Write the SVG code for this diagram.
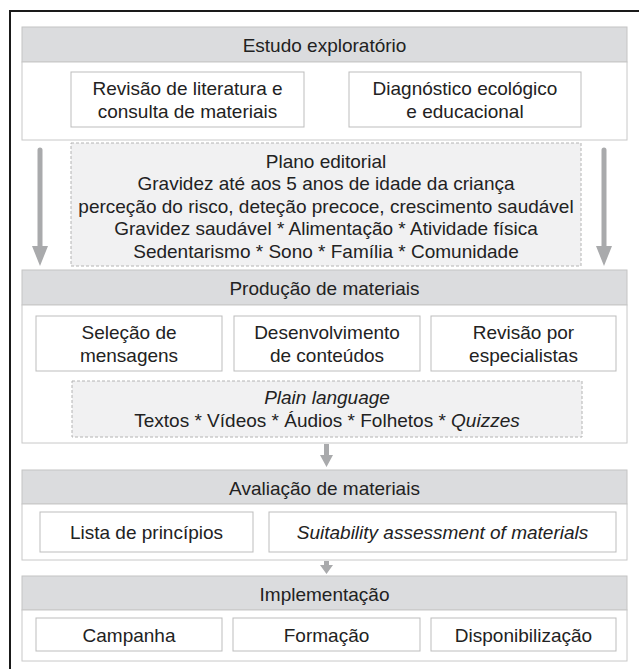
<svg xmlns="http://www.w3.org/2000/svg" width="639" height="669" viewBox="0 0 639 669">
<style>
.frame{fill:#fff;stroke:#1a1a1a;stroke-width:2}
.hdr{fill:#dbdcde;stroke:#c4c4c4;stroke-width:1}
.cont{fill:#fff;stroke:#c8c8c8;stroke-width:1}
.box{fill:#fff;stroke:#bdbdbd;stroke-width:1}
.dash{fill:#f1f1f2;stroke:#b4b4b4;stroke-width:1;stroke-dasharray:3 2}
text{font-family:"Liberation Sans",Arial,sans-serif;font-size:19px;fill:#222;text-anchor:middle}
.it{font-style:italic}
.arr{fill:#a9aaac}
</style>
<rect class="frame" x="10" y="11" width="640" height="670"/>

<g id="estudo">
<rect class="hdr" x="22" y="27" width="605" height="35"/>
<text x="324.5" y="51.5">Estudo exploratório</text>
<rect class="cont" x="22" y="62" width="605" height="78"/>
</g>
<g id="revisao-literatura">
<rect class="box" x="71" y="72" width="233" height="55"/>
<text x="187.5" y="94.5">Revisão de literatura e</text>
<text x="187.5" y="117.5">consulta de materiais</text>
</g>
<g id="diagnostico">
<rect class="box" x="349" y="72" width="232" height="55"/>
<text x="465" y="94.5">Diagnóstico ecológico</text>
<text x="465" y="117.5">e educacional</text>
</g>
<g id="plano">
<rect class="dash" x="71" y="143" width="510" height="123"/>
<text x="326" y="167.5">Plano editorial</text>
<text x="326" y="190">Gravidez até aos 5 anos de idade da criança</text>
<text x="326" y="212.5">perceção do risco, deteção precoce, crescimento saudável</text>
<text x="326" y="235">Gravidez saudável * Alimentação * Atividade física</text>
<text x="326" y="257.5">Sedentarismo * Sono * Família * Comunidade</text>
</g>

<g id="producao">
<rect class="hdr" x="22" y="270" width="605" height="35"/>
<text x="324.5" y="294.5">Produção de materiais</text>
<rect class="cont" x="22" y="305" width="605" height="138"/>
</g>
<g id="selecao">
<rect class="box" x="36" y="316" width="186" height="55"/>
<text x="129" y="338.5">Seleção de</text>
<text x="129" y="361.5">mensagens</text>
</g>
<g id="desenvolvimento">
<rect class="box" x="234" y="316" width="186" height="55"/>
<text x="327" y="338.5">Desenvolvimento</text>
<text x="327" y="361.5">de conteúdos</text>
</g>
<g id="revisao-especialistas">
<rect class="box" x="431" y="316" width="185" height="55"/>
<text x="523.5" y="338.5">Revisão por</text>
<text x="523.5" y="361.5">especialistas</text>
</g>
<g id="plain">
<rect class="dash" x="72" y="381" width="510" height="56"/>
<text x="327" y="403.5" class="it">Plain language</text>
<text x="327" y="426.5">Textos * Vídeos * Áudios * Folhetos * <tspan class="it">Quizzes</tspan></text>
</g>

<g id="avaliacao">
<rect class="hdr" x="22" y="470" width="605" height="34"/>
<text x="324.5" y="494.5">Avaliação de materiais</text>
<rect class="cont" x="22" y="504" width="605" height="56"/>
</g>
<g id="lista">
<rect class="box" x="40" y="512" width="213" height="40"/>
<text x="146.5" y="538.5">Lista de princípios</text>
</g>
<g id="suitability">
<rect class="box" x="269" y="512" width="347" height="40"/>
<text x="442.5" y="538.5" class="it">Suitability assessment of materials</text>
</g>

<g id="implementacao">
<rect class="hdr" x="22" y="576" width="605" height="34"/>
<text x="324.5" y="600.5">Implementação</text>
<rect class="cont" x="22" y="610" width="605" height="51"/>
</g>
<g id="campanha">
<rect class="box" x="36" y="618" width="186" height="33"/>
<text x="129" y="641.5">Campanha</text>
</g>
<g id="formacao">
<rect class="box" x="233" y="618" width="187" height="33"/>
<text x="326.5" y="641.5">Formação</text>
</g>
<g id="disponibilizacao">
<rect class="box" x="431" y="618" width="185" height="33"/>
<text x="523.5" y="641.5">Disponibilização</text>
</g>

<g id="connectors">
<path class="arr" d="M37.5 150 a2.5 2.5 0 0 1 5 0 V246 H48 L40 266 L32 246 H37.5 Z"/>
<path class="arr" d="M601.5 150 a2.5 2.5 0 0 1 5 0 V246 H612 L604 266 L596 246 H601.5 Z"/>
<path class="arr" d="M324 444 H329 V455 H333 L326.5 467 L320 455 H324 Z"/>
<path class="arr" d="M324 561 H329 V565 H333 L326.5 574 L320 565 H324 Z"/>
</g>
</svg>
